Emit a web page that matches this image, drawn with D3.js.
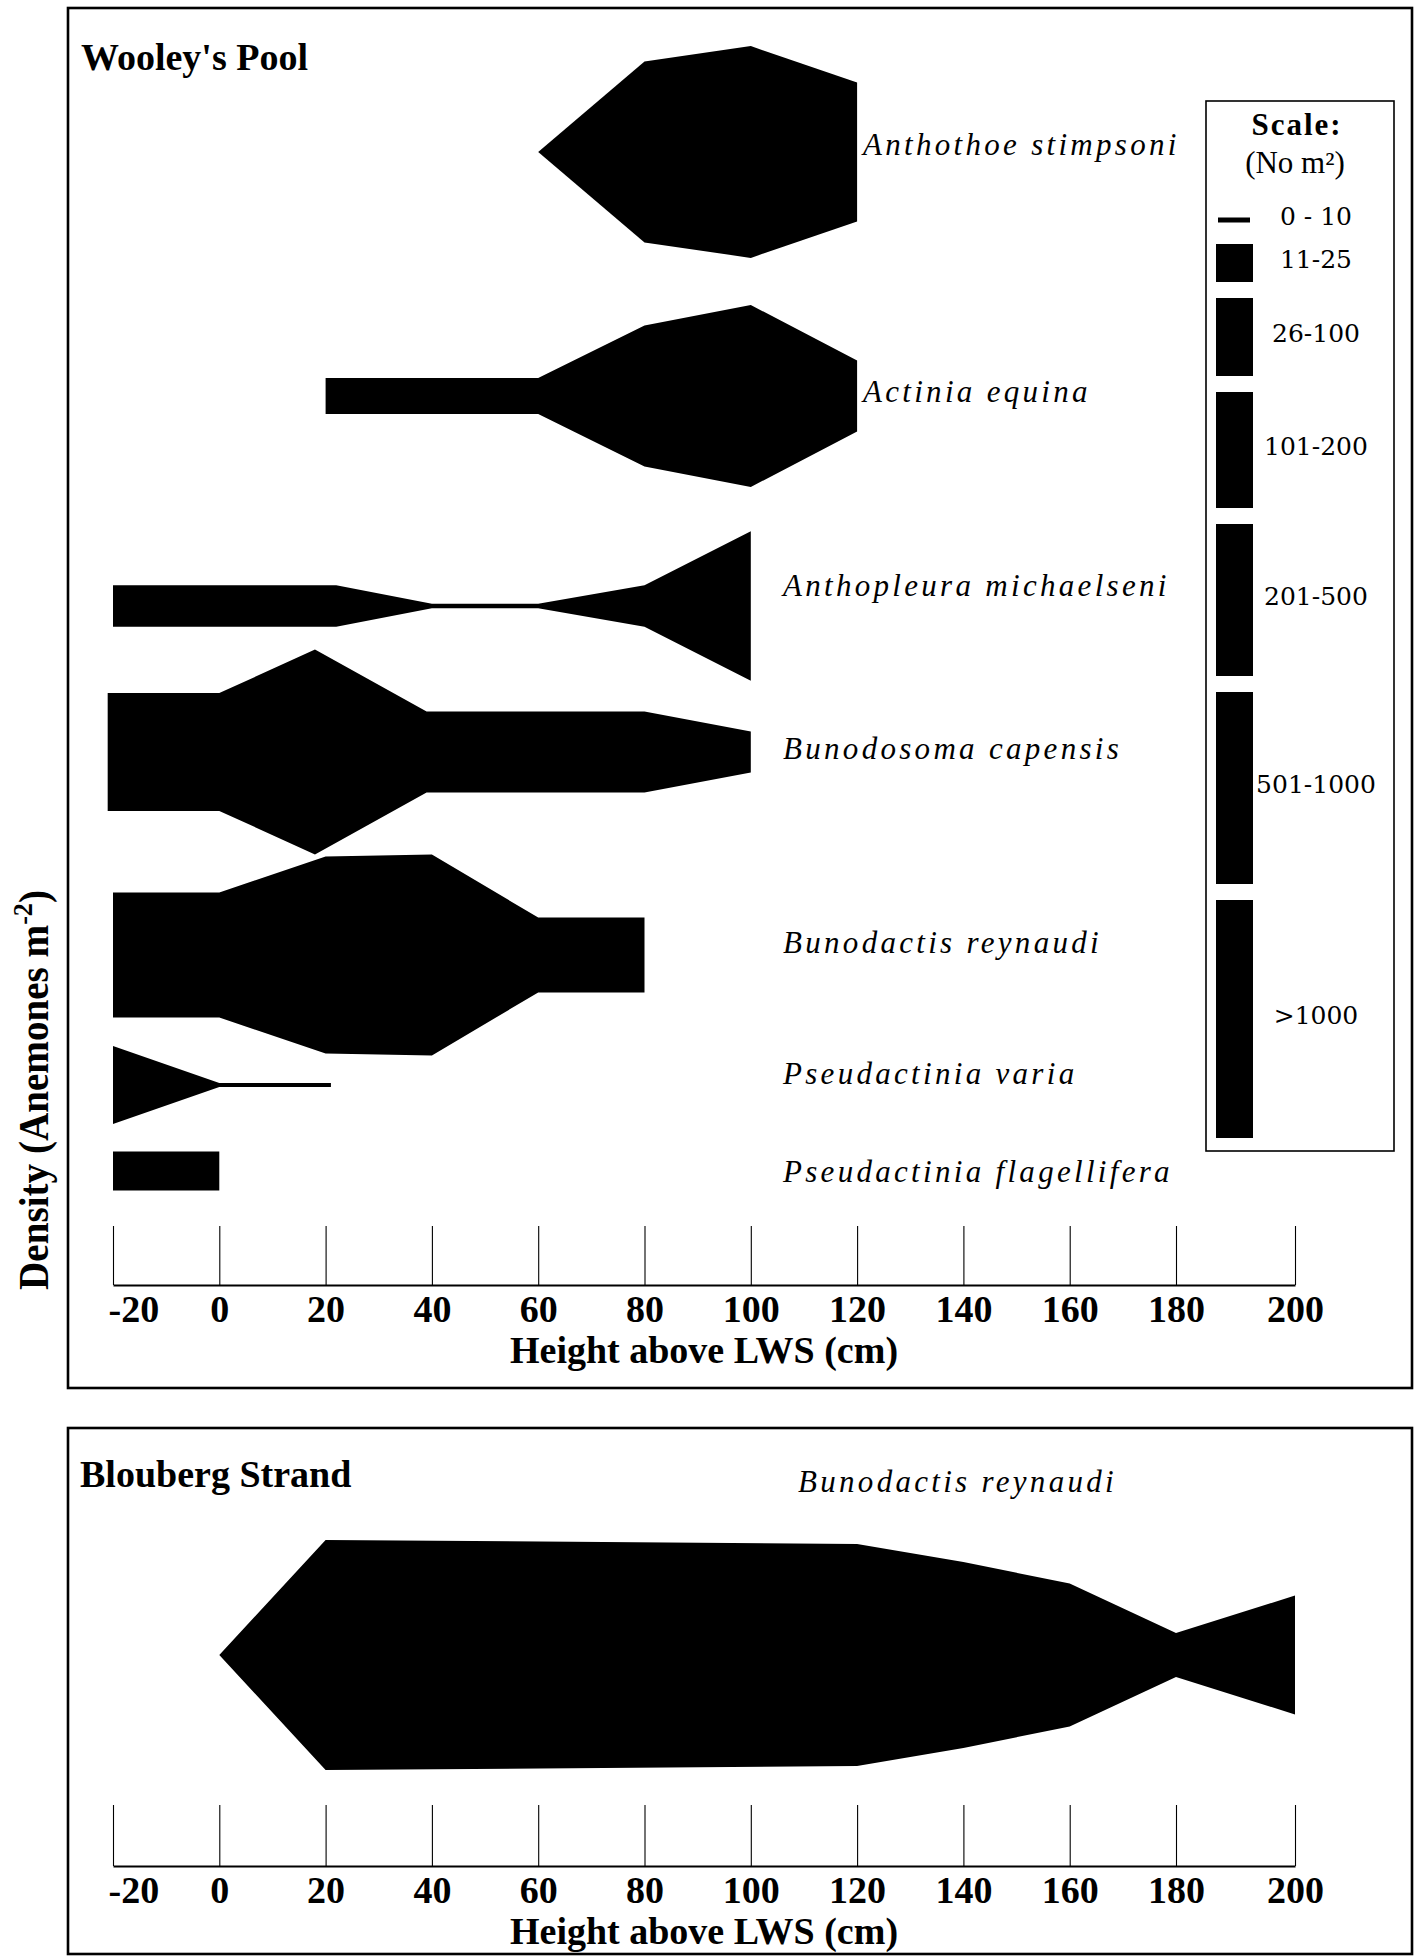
<!DOCTYPE html>
<html>
<head>
<meta charset="utf-8">
<script src="https://cdn.jsdelivr.net/npm/d3@7"></script>
<style>
  body { margin: 0; background: #fff; }
  svg { display: block; }
</style>
</head>
<body>
<svg id="chart" width="1419" height="1956"></svg>
<script>
// ---- Data -------------------------------------------------------------

// Shore height axis (cm above low water spring)
const heightTicks = [-20, 0, 20, 40, 60, 80, 100, 120, 140, 160, 180, 200];

// Density classes (No m^-2) and the upper bound of each class
const classLabels = ["0 - 10", "11-25", "26-100", "101-200", "201-500", "501-1000", ">1000"];
const classMax = [10, 25, 100, 200, 500, 1000, 2000];

// Wooley's Pool: species, in order from top to bottom
const speciesNames = [
  "Anthothoe stimpsoni",
  "Actinia equina",
  "Anthopleura michaelseni",
  "Bunodosoma capensis",
  "Bunodactis reynaudi",
  "Pseudactinia varia",
  "Pseudactinia flagellifera"
];

// Height (cm) of each sample point and density there (No m^-2)
const anthothoeHeights = [60, 80, 100, 120];
const anthothoeDensity = [0, 860, 1430, 390];

const actiniaHeights = [20, 60, 80, 100, 120];
const actiniaDensity = [24, 24, 410, 875, 87];

const anthopleuraHeights = [-20, 22, 40, 60, 80, 100];
const anthopleuraDensity = [32, 32, 9, 9, 32, 480];

const bunodosomaHeights = [-21, 0, 18, 39, 80, 100];
const bunodosomaDensity = [215, 215, 1280, 108, 108, 31];

const bunodactisHeights = [-20, 0, 20, 40, 60, 80];
const bunodactisDensity = [275, 275, 1110, 1200, 94, 94];

const pVariaHeights = [-20, 0, 21];
const pVariaDensity = [100, 8, 8];

const pFlagelliferaHeights = [-20, 0];
const pFlagelliferaDensity = [27, 27];

// Blouberg Strand: Bunodactis reynaudi
const bloubergHeights = [0, 20, 120, 140, 160, 180, 200];
const bloubergDensity = [0, 1830, 1650, 925, 425, 36, 225];

// ---- Drawing ----------------------------------------------------------

const serif = '"Liberation Serif", "Times New Roman", Times, serif';
const svg = d3.select("#chart");

const wooleyProfiles = [
  [anthothoeHeights, anthothoeDensity],
  [actiniaHeights, actiniaDensity],
  [anthopleuraHeights, anthopleuraDensity],
  [bunodosomaHeights, bunodosomaDensity],
  [bunodactisHeights, bunodactisDensity],
  [pVariaHeights, pVariaDensity],
  [pFlagelliferaHeights, pFlagelliferaDensity]
].map(([hs, ds]) => hs.map((h, i) => ({ h, d: ds[i] })));

const bloubergProfile = bloubergHeights.map((h, i) => ({ h, d: bloubergDensity[i] }));

// Page layout
const layout = {
  rowCenters: [152, 396, 606, 752, 955, 1085, 1171],
  labelX: [863, 863, 783, 783, 783, 783, 783],
  labelBase: [155, 402, 596, 759, 953, 1084, 1182],
  topAxisY: 1285,
  bottomAxisY: 1866,
  bloubergCenter: 1655
};

// Height axis: the printed scale is slightly stretched in its last interval
const x = d3.scaleLinear().domain([-20, 180, 200]).range([113, 1176, 1295]);

// Band thickness for a density value, piecewise over the class bounds
const thickness = d3.scaleLinear()
  .domain([0, ...classMax])
  .range([0, 5, 38, 78, 116, 152, 192, 238]);

function kiteArea(cy) {
  return d3.area()
    .x(d => x(d.h))
    .y0(d => cy - thickness(d.d) / 2)
    .y1(d => cy + thickness(d.d) / 2)
    .curve(d3.curveLinear);
}

// Panel frames
function frame(y0, y1) {
  svg.append("rect")
    .attr("x", 68).attr("y", y0)
    .attr("width", 1344).attr("height", y1 - y0)
    .attr("fill", "none").attr("stroke", "#000").attr("stroke-width", 2.6);
}
frame(8, 1388);
frame(1428, 1954);

// Panel titles
svg.append("text")
  .attr("x", 81).attr("y", 70)
  .attr("font-family", serif).attr("font-weight", "bold").attr("font-size", 38)
  .text("Wooley's Pool");

svg.append("text")
  .attr("x", 80).attr("y", 1487)
  .attr("font-family", serif).attr("font-weight", "bold").attr("font-size", 38)
  .text("Blouberg Strand");

// Wooley's Pool kite shapes
const rows = svg.append("g").attr("class", "species");
wooleyProfiles.forEach((prof, i) => {
  rows.append("path")
    .datum(prof)
    .attr("d", kiteArea(layout.rowCenters[i]))
    .attr("fill", "#000");
  rows.append("text")
    .attr("x", layout.labelX[i]).attr("y", layout.labelBase[i])
    .attr("font-family", serif).attr("font-style", "italic")
    .attr("font-size", 31).attr("letter-spacing", "3.3px")
    .text(speciesNames[i]);
});

// Blouberg Strand kite
svg.append("path")
  .datum(bloubergProfile)
  .attr("d", kiteArea(layout.bloubergCenter))
  .attr("fill", "#000");
svg.append("text")
  .attr("x", 798).attr("y", 1492)
  .attr("font-family", serif).attr("font-style", "italic")
  .attr("font-size", 31).attr("letter-spacing", "3.3px")
  .text("Bunodactis reynaudi");

// Axes
function heightAxis(baseY, tickLen) {
  const axis = d3.axisBottom(x)
    .tickValues(heightTicks)
    .tickSizeInner(-tickLen)
    .tickSizeOuter(0)
    .tickPadding(10)
    .tickFormat(d => String(d));
  const g = svg.append("g")
    .attr("transform", `translate(0,${baseY})`)
    .call(axis);
  g.attr("font-family", null).attr("font-size", null);
  g.select(".domain").attr("stroke", "#000").attr("stroke-width", 2.2);
  g.selectAll(".tick line").attr("stroke", "#000").attr("stroke-width", 1.1);
  g.selectAll(".tick text")
    .attr("fill", "#000")
    .attr("font-family", serif).attr("font-weight", "bold").attr("font-size", 38);
  g.selectAll(".tick text").filter(d => d === -20)
    .attr("text-anchor", "start").attr("x", -5);

  svg.append("text")
    .attr("x", (x(-20) + x(200)) / 2).attr("y", baseY + 78)
    .attr("text-anchor", "middle")
    .attr("font-family", serif).attr("font-weight", "bold").attr("font-size", 38)
    .text("Height above LWS (cm)");
}
heightAxis(layout.topAxisY, 59);
heightAxis(layout.bottomAxisY, 61);

// Density axis title (shared, rotated)
const yTitle = svg.append("text")
  .attr("font-family", serif).attr("font-weight", "bold").attr("font-size", 42)
  .attr("text-anchor", "middle");
yTitle.append("tspan").text("Density (Anemones m");
yTitle.append("tspan").attr("font-size", 28).attr("dy", -16).text("-2");
yTitle.append("tspan").attr("dy", 16).text(")");
const natural = yTitle.node().getComputedTextLength();
yTitle.attr("transform", `translate(48,1090) rotate(-90) scale(${400 / natural},1)`);

// Density legend
const legend = svg.append("g").attr("class", "legend");
legend.append("rect")
  .attr("x", 1206).attr("y", 101).attr("width", 188).attr("height", 1050)
  .attr("fill", "none").attr("stroke", "#000").attr("stroke-width", 1.6);
legend.append("text")
  .attr("x", 1297).attr("y", 135).attr("text-anchor", "middle")
  .attr("font-family", serif).attr("font-weight", "bold").attr("font-size", 31)
  .attr("letter-spacing", "2px")
  .text("Scale:");
legend.append("text")
  .attr("x", 1295).attr("y", 173).attr("text-anchor", "middle")
  .attr("font-family", serif).attr("font-size", 31)
  .text("(No m\u00B2)");

let cursor = 244;
classMax.forEach((m, i) => {
  const h = thickness(m);
  let top, cx;
  if (i === 0) {
    top = 220 - h / 2;
    legend.append("rect")
      .attr("x", 1218).attr("y", top).attr("width", 32).attr("height", h)
      .attr("fill", "#000");
  } else {
    top = cursor;
    legend.append("rect")
      .attr("x", 1216).attr("y", top).attr("width", 37).attr("height", h)
      .attr("fill", "#000");
    cursor = top + h + 16;
  }
  legend.append("text")
    .attr("x", 1316).attr("y", top + h / 2 - 4)
    .attr("dominant-baseline", "central")
    .attr("text-anchor", "middle")
    .attr("font-family", '"DejaVu Serif", serif').attr("font-size", 25)
    .text(classLabels[i]);
});
</script>
</body>
</html>
